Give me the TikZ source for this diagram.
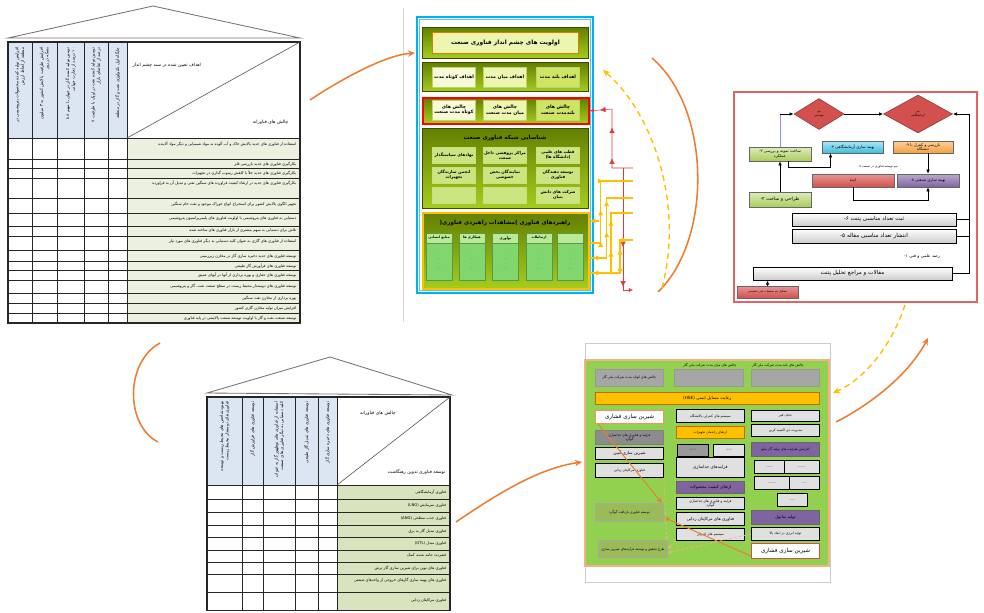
\documentclass[tikz,border=0pt]{standalone}
\usepackage{fontspec}
\newfontfamily\arabicfont[Script=Arabic]{DejaVu Sans}
\TeXXeTstate=1
\usetikzlibrary{positioning,arrows.meta,shapes.geometric,calc,decorations.markings}
\definecolor{hdrBlue}{RGB}{220,230,242}
\definecolor{rowGreen}{RGB}{235,241,222}
\definecolor{rowGreenB}{RGB}{215,228,189}
\definecolor{frameCyan}{RGB}{0,176,240}
\definecolor{oliveD}{RGB}{100,128,0}
\definecolor{oliveL}{RGB}{165,205,30}
\definecolor{paleLime}{RGB}{236,246,176}
\definecolor{limeDeep}{RGB}{205,228,100}
\definecolor{limeSoft}{RGB}{246,250,215}
\definecolor{paleLimeB}{RGB}{190,210,110}
\definecolor{capYellow}{RGB}{255,192,0}
\definecolor{colGreen}{RGB}{130,214,110}
\definecolor{colGreenH}{RGB}{185,235,150}
\definecolor{flowRed}{RGB}{210,80,77}
\definecolor{flowGreen}{RGB}{170,205,90}
\definecolor{flowCyan}{RGB}{60,190,225}
\definecolor{flowOrange}{RGB}{247,160,60}
\definecolor{flowPurple}{RGB}{128,100,162}
\definecolor{flowGray}{RGB}{205,205,205}
\definecolor{panelGreen}{RGB}{146,208,80}
\definecolor{panelBorder}{RGB}{244,177,131}
\definecolor{boxGray}{RGB}{166,166,166}
\definecolor{boxOlive}{RGB}{155,187,89}
\definecolor{arcOrange}{RGB}{237,125,49}
\definecolor{lineRed}{RGB}{220,60,60}

\newcommand\fatxt[1]{{\arabicfont\beginR #1\endR}}

\begin{document}
\begin{tikzpicture}[x=0.025cm, y=-0.025cm,
  wh/.style 2 args={minimum width=#1*0.025cm, minimum height=#2*0.025cm},
  gridln/.style={draw=black!85, line width=0.4pt},
  roofln/.style={draw=black!55, line width=0.6pt, fill=white},
  vtxt/.style={rotate=90, anchor=east, align=right, inner sep=0.3pt,
    font=\fontsize{2.95}{3.9}\selectfont},
  rowtxt/.style={anchor=east, inner sep=0.3pt, font=\fontsize{2.7}{3.2}\selectfont},
  hdrtxt/.style={inner sep=0.3pt, font=\fontsize{3.2}{3.8}\selectfont},
  band/.style={anchor=north west, draw=oliveD!60!black, line width=0.6pt,
    top color=oliveD, bottom color=oliveL},
  limebox/.style={draw=paleLimeB, fill=paleLime, line width=0.4pt, align=center,
    inner sep=0.3pt, font=\fontsize{3.3}{3.9}\selectfont\bfseries},
  netbox/.style={draw=oliveL!60!white, fill=oliveL!55!white, line width=0.4pt,
    align=center, inner sep=0.3pt, font=\fontsize{2.9}{3.5}\selectfont\bfseries},
  colhead/.style={draw=colGreen!70!black, fill=colGreenH, line width=0.3pt,
    inner sep=0.2pt, font=\fontsize{2.4}{3}\selectfont\bfseries},
  colbody/.style={draw=colGreen!70!black, fill=colGreen, line width=0.3pt,
    inner sep=0.2pt, align=center, font=\fontsize{2.4}{3.8}\selectfont},
  yelln/.style={draw=capYellow, line width=1.1pt},
  redln/.style={draw=lineRed, line width=0.4pt},
  marr/.style={postaction={decorate}, decoration={markings,
    mark=between positions #1 and 0.95 step 0.3 with {\arrow{Latex[length=4pt,width=4pt]}}}},
  endarr/.style={-{Latex[length=3pt,width=3pt]}},
  flowbox/.style={draw=black!60, line width=0.3pt, align=center, inner sep=0.3pt,
    font=\fontsize{2.8}{3.4}\selectfont},
  graybar/.style={draw=black, line width=0.6pt, top color=white, bottom color=flowGray,
    inner sep=0.3pt, font=\fontsize{4}{4.8}\selectfont},
  flowarr/.style={draw=black, line width=0.6pt, -{Latex[length=3pt,width=2.6pt]}},
  gbox/.style={anchor=north west, draw=black, line width=0.6pt, fill=black!12,
    align=center, inner sep=0.2pt, font=\fontsize{2.4}{3}\selectfont},
  orarc/.style={draw=arcOrange, line width=1.1pt, -{Stealth[length=5pt,width=4.5pt]}},
  yelarc/.style={draw=capYellow, line width=1pt, dash pattern=on 4pt off 3pt,
    -{Stealth[length=5pt,width=4.5pt]}},
  orln/.style={draw=arcOrange, line width=0.7pt, -{Stealth[length=4pt,width=3.5pt]}},
  ordash/.style={draw=arcOrange!60, line width=0.5pt, dash pattern=on 2pt off 1.5pt}
]
\useasboundingbox (0,0) rectangle (984,612);

%% ---------- house matrix: vision goals vs challenges ----------
\draw[roofln] (8,38) -- (153,6) -- (300,38) -- cycle;
\fill[hdrBlue] (8,42) rectangle (127,138);
\fill[rowGreen] (127,138) rectangle (300,323);
\foreach \x in {32,57,84,108,127} \draw[gridln] (\x,42) -- (\x,323);
\foreach \y in {138,159,168,178,198,213,226,236,250,261,270,280,293,303,313}
  \draw[gridln] (8,\y) -- (300,\y);
\draw[gridln, line width=0.8pt] (8,42) rectangle (300,323);
\draw[black!70, line width=0.4pt] (127,138) -- (300,42);

\node[vtxt] (goalA) at (20,47) {\fatxt{افزایش تولید کننده محصولات پتروشیمی در}\\\fatxt{منطقه از لحاظ ارزش}};
\node[vtxt] (goalB) at (44.5,47) {\fatxt{افزایش ظرفیت پالایش کشور به ۳ میلیون}\\\fatxt{بشکه در روز}};
\node[vtxt] (goalC) at (70.5,47) {\fatxt{دومین تولید کننده گاز در جهان با سهم ۸ تا}\\\fatxt{۱۰ درصد از تجارت جهانی}};
\node[vtxt] (goalD) at (96,47) {\fatxt{دومین تولید کننده نفت در اوپک با ظرفیت ۷}\\\fatxt{درصد از تقاضای بازار}};
\node[vtxt] (goalE) at (117.5,47) {\fatxt{جایگاه اول تکنولوژی نفت و گاز در منطقه}};

\node[hdrtxt, anchor=west] (goalHdr) at (132,65) {\fatxt{اهداف تعیین شده در سند چشم انداز}};
\node[hdrtxt, anchor=east] (chalHdr) at (289,122) {\fatxt{چالش های فناورانه}};

\foreach \y/\lbl [count=\i] in {
  144/{استفاده از فناوری های جدید پالایش خاک و آب آلوده به مواد شیمیایی و دیگر مواد آلاینده},
  164/{بکارگیری فناوری های جدید بازرسی فلز},
  173/{بکارگیری فناوری های جدید خلأ با کاهش رسوب گذاری در تجهیزات},
  183/{بکارگیری فناوری های جدید در ارتقاء کیفیت فراورده های سنگین نفتی و تبدیل آن به فراورده},
  204/{تجهیز الگوی پالایش کشور برای استخراج انواع خوراک موجود و نفت خام سنگین},
  219/{دستیابی به فناوری های پتروشیمی با اولویت فناوری های پلیمریزاسیون پتروشیمی},
  231/{تلاش برای دستیابی به سهم بیشتری از بازار فناوری های ساخته شده},
  241/{استفاده از فناوری های گازی به عنوان کلید دستیابی به دیگر فناوری های مورد نیاز},
  256/{توسعه فناوری های جدید ذخیره سازی گاز در مخازن زیرزمینی},
  266/{توسعه فناوری های فرآورش گاز طبیعی},
  275/{توسعه فناوری های حفاری و بهره برداری از آنها در آبهای عمیق},
  286/{توسعه فناوری های دوستدار محیط زیست در سطح صنعت نفت، گاز و پتروشیمی},
  298/{بهره برداری از مخازن نفت سنگین},
  308/{افزایش میزان تولید مخازن گازی کشور},
  318/{توسعه صنعت نفت و گاز با اولویت توسعه صنعت پالایشی در پایه فناوری}}
  \node[rowtxt] (chalRow\i) at (297,\y) {\fatxt{\lbl}};

%% ---------- technology vision framework ----------
\draw[black!15] (403,8) -- (403,322);
\draw[frameCyan, line width=1.3pt] (417,17) rectangle (593,293);
\draw[frameCyan!70, line width=0.4pt] (419.5,19.5) rectangle (590.5,290.5);

\node[band, wh={166}{31}] (visBand) at (422,27) {};
\node[limebox, wh={146}{21}, draw=orange!70!olive, font=\fontsize{4.2}{5}\selectfont\bfseries]
  (visTitle) at (visBand.center) {\fatxt{اولویت های چشم انداز فناوری صنعت}};

\node[band, wh={166}{29}] (goalBand) at (422,62) {};
\foreach \cx/\fc/\lbl [count=\i] in {558/limeDeep/{اهداف بلند مدت},
    505/paleLime/{اهداف میان مدت}, 454/limeSoft/{اهداف کوتاه مدت}}
  \node[limebox, fill=\fc, wh={43}{20}] (goal\i) at (\cx,77) {\fatxt{\lbl}};

\node[band, draw=red, line width=1.2pt, wh={166}{26}] (chalBand) at (422,97) {};
\foreach \cx/\fc/\lbl [count=\i] in {558/limeDeep/{بلندمدت صنعت},
    505/paleLime/{میان مدت صنعت}, 454/limeSoft/{کوتاه مدت صنعت}}
  \node[limebox, fill=\fc, wh={43}{20}] (chal\i) at (\cx,110) {\fatxt{چالش های}\\\fatxt{\lbl}};

\node[band, wh={166}{80}] (netBand) at (422,128) {};
\node[hdrtxt, font=\fontsize{4}{5}\selectfont\bfseries] (netTitle) at (505,138)
  {\fatxt{شناسایی شبکه فناوری صنعت}};
\node[netbox, wh={43}{16}] (netA) at (558,155) {\fatxt{قطب های علمی}\\{\arabicfont(\beginR دانشگاه ها\endR)}};
\node[netbox, wh={43}{16}] (netB) at (505,155) {\fatxt{مراکز پژوهشی داخل}\\\fatxt{صنعت}};
\node[netbox, wh={43}{16}] (netC) at (454,155) {\fatxt{نهادهای سیاستگذار}};
\node[netbox, wh={43}{16}] (netD) at (558,175) {\fatxt{توسعه دهندگان}\\\fatxt{فناوری}};
\node[netbox, wh={43}{16}] (netE) at (505,175) {\fatxt{نمایندگان بخش}\\\fatxt{خصوصی}};
\node[netbox, wh={43}{16}] (netF) at (454,175) {\fatxt{انجمن سازندگان}\\\fatxt{تجهیزات}};
\node[netbox, wh={43}{16}] (netG) at (558,195) {\fatxt{شرکت های دانش}\\\fatxt{بنیان}};
\node[netbox, wh={43}{16}] (netH) at (505,195) {};
\node[netbox, wh={43}{16}] (netI) at (454,195) {};

\node[band, draw=capYellow, line width=1.2pt, wh={166}{76}] (stratBand) at (422,212) {};
\node[hdrtxt, font=\fontsize{4}{5}\selectfont\bfseries] (stratTitle) at (505,223)
  {\arabicfont(\beginR مشاهدات راهبردی فناوری\endR) \beginR راهبردهای فناوری\endR};
\foreach \cx/\lbl [count=\i] in {439/{منابع انسانی}, 472/{همکاری ها}, 505.5/{نوآوری},
    539/{ارتباطات}, 570.5/{}} {
  \node[colhead, wh={26}{10}] (colH\i) at (\cx,238) {\fatxt{\lbl}};
  \node[colbody, wh={26}{37}] (colB\i) at (\cx,261.5) {.\\.\\.\\...};
}

% feedback lines on the right
\coordinate (redTop) at (633,168);
\coordinate (redJoin) at (623,168);
\coordinate (redBot) at (633,290);
\draw[redln, endarr, marr=0.3] (redTop) -- (612,168) -- (612,109) -- (chalBand.east);
\draw[redln, endarr, marr=0.6] (redJoin) -- (623,290) -- (redBot);
\coordinate (yelA) at (633,181);
\coordinate (yelB) at (633,198);
\coordinate (yelC) at (633,213);
\coordinate (yelD) at (633,240);
\coordinate (yelJoin) at (599,221);
\coordinate (yelKnee) at (611,273);
\draw[yelln, marr=0.12] ($(stratBand.north east)+(0,31)$) -- ++(11,0) |- (yelA);
\draw[yelln, -{Latex[length=4pt,width=4pt]}] (yelJoin) -- ($(stratBand.north east)+(0,9)$);
\draw[yelln, marr=0.12] ($(stratBand.north east)+(0,46)$) -- ++(17,0) |- (yelB);
\draw[yelln, marr=0.12] ($(stratBand.north east)+(0,61)$) -- (yelKnee) |- (yelC);
\draw[yelln, marr=0.3] (yelKnee) -- ++(9,0) |- (yelD);

%% ---------- R&D flow chart ----------
\draw[lineRed!80, line width=0.8pt] (734,92) rectangle (977,302);
\node[diamond, fill=flowRed, draw=flowRed!70!black, wh={50}{31}, inner sep=0, align=center,
  font=\fontsize{2}{2.4}\selectfont] (teamEng) at (819,114) {\fatxt{تیم}\\\fatxt{مهندسی}};
\node[diamond, fill=flowRed, draw=flowRed!70!black, wh={69}{38}, inner sep=0, align=center,
  font=\fontsize{2}{2.4}\selectfont] (teamLab) at (918,114) {\fatxt{تیم}\\\fatxt{آزمایشگاهی}};
\node[flowbox, top color=flowGreen!40!white, bottom color=flowGreen, wh={62}{14}] (build) at (780,154)
  {{\arabicfont ۳- \beginR ساخت نمونه و بررسی\endR}\\\fatxt{عملکرد}};
\node[flowbox, top color=flowCyan!40!white, bottom color=flowCyan, wh={61}{12}] (labOpt) at (852.5,147)
  {{\arabicfont ۴- \beginR بهینه سازی آزمایشگاهی\endR}};
\node[flowbox, top color=flowOrange!50!white, bottom color=flowOrange, wh={60}{12}] (inspect) at (923,147)
  {{\arabicfont ۹- \beginR بازرسی و کنترل با\endR}\\\fatxt{دستگاه}};
\node[inner sep=0.3pt, font=\fontsize{2.2}{2.6}\selectfont] (devNote) at (878,167)
  {{\arabicfont ۷- \beginR تیم توسعه فناوری در صنعت\endR}};
\node[flowbox, top color=flowRed!60!white, bottom color=flowRed, wh={82}{13}] (idea) at (853,180.5)
  {\fatxt{ایده}};
\node[flowbox, top color=flowPurple!55!white, bottom color=flowPurple, wh={62}{13}] (indOpt) at (928,180.5)
  {{\arabicfont ۸- \beginR بهینه سازی صنعتی\endR}};
\node[flowbox, top color=flowGreen!40!white, bottom color=flowGreen, wh={62}{15},
  font=\fontsize{3.4}{4}\selectfont] (design) at (780,199.5)
  {{\arabicfont ۲- \beginR طراحی و ساخت\endR}};
\node[graybar, wh={164}{13}] (patent) at (874,219.5)
  {{\arabicfont ۶- \beginR ثبت تعداد مناسبی پتنت\endR}};
\node[graybar, wh={164}{14}] (paper) at (874,236)
  {{\arabicfont ۵- \beginR انتشار تعداد مناسبی مقاله\endR}};
\node[inner sep=0.3pt, font=\fontsize{3}{3.6}\selectfont] (scanNote) at (922,256)
  {{\arabicfont ۱- \beginR رصد علمی و فنی\endR}};
\node[graybar, wh={199}{13}] (refs) at (852.5,273.5) {\fatxt{مقالات و مراجع تحلیل پتنت}};
\node[flowbox, top color=flowRed!60!white, bottom color=flowRed, wh={61}{12},
  font=\fontsize{2}{2.4}\selectfont] (team) at (767.5,292) {\fatxt{تشکیل تیم تحقیقات فنی تخصصی}};

\coordinate (railTop) at (969,114);
\draw[blue!45, line width=0.6pt] (build.north) -- (build.north |- teamEng.west);
\draw[flowarr] (build.north |- teamEng.west) -- (teamEng.west);
\draw[flowarr] (teamEng.east) -- (teamLab.west);
\draw[flowarr] (design.north) -- (build.south);
\draw[flowarr] ($(build.south)+(8,0)$) -- ++(0,6) -| ($(labOpt.south)+(-22,0)$);
\draw[flowarr] (indOpt.north |- inspect.south) -- (indOpt.north);
\draw[flowarr] (idea.south) -- ++(0,13) -| (indOpt.south);
\draw[flowarr] (team.north) -- (team.north |- refs.south);
\draw[flowarr] (refs.east) -- (refs.east -| railTop) -- (railTop) -- (teamLab.east);
\draw[flowarr, -] (patent.east) -- (patent.east -| railTop);
\draw[flowarr, -] (paper.east) -- (paper.east -| railTop);

%% ---------- house matrix: gas technology roadmap ----------
\draw[roofln] (207,393) -- (330,357) -- (452,395) -- cycle;
\fill[hdrBlue] (207,397) rectangle (337,485);
\fill[rowGreenB] (337,485) rectangle (450,610.5);
\foreach \x in {242,263,295,318,337} \draw[gridln] (\x,397) -- (\x,610.5);
\foreach \y in {485,499,512,525,537,550,562,574,592}
  \draw[gridln] (207,\y) -- (450,\y);
\draw[gridln, line width=0.8pt] (207,397) rectangle (450,610.5);
\draw[black!70, line width=0.4pt] (337,485) -- (450,397);

\node[vtxt] (gasA) at (224.5,401) {\fatxt{بهبود شاخص های محیط زیست و توسعه}\\\fatxt{فناوری های دوستدار محیط زیست}};
\node[vtxt] (gasB) at (252.5,401) {\fatxt{توسعه فناوری های فراورش گاز}};
\node[vtxt] (gasC) at (279,401) {\fatxt{استفاده از فناوری های نوظهور گاز به عنوان}\\\fatxt{کلید دستیابی به دیگر فناوری های صنعت}};
\node[vtxt] (gasD) at (306.5,401) {\fatxt{توسعه فناوری های تبدیل گاز طبیعی}};
\node[vtxt] (gasE) at (327.5,401) {\fatxt{توسعه فناوری های ذخیره سازی گاز}};

\node[hdrtxt] (chalHdrB) at (378,413) {\fatxt{چالش های فناورانه}};
\node[hdrtxt, anchor=east] (roadHdr) at (446,472) {\fatxt{توسعه فناوری تدوین رهنگاشت}};

\foreach \y/\lbl [count=\i] in {
  492/{فناوری آزمایشگاهی},
  505.5/{فناوری سرمایش (LNG)},
  518.5/{فناوری جذب سطحی (ANG)},
  531/{فناوری تبدیل گاز به برق},
  543.5/{فناوری مبدل (GTL)},
  556/{فشرده، جامد شده، کمک},
  568/{فناوری های نوین برای شیرین سازی گاز ترش},
  580/{فناوری های بهینه سازی گازهای خروجی از واحدهای صنعتی},
  601/{فناوری مرکاپتان زدایی}}
  \node[rowtxt] (gasRow\i) at (447,\y) {\fatxt{\lbl}};

%% ---------- gas company challenge map ----------
\draw[black!20] (585,343) rectangle (830,582);
\draw[panelBorder, line width=0.8pt, fill=panelGreen] (585,360) rectangle (829,566);
\node[hdrtxt, font=\fontsize{2.4}{3}\selectfont] (midHdr) at (710,365) {\fatxt{چالش های میان مدت شرکت ملی گاز}};
\node[hdrtxt, font=\fontsize{2.4}{3}\selectfont] (longHdr) at (778,365) {\fatxt{چالش های بلند مدت شرکت ملی گاز}};

\node[gbox, draw=black!40, line width=0.4pt, fill=boxGray, wh={68}{17}] (shortCh) at (595,369) {\fatxt{چالش های کوتاه مدت شرکت ملی گاز}};
\node[gbox, draw=black!40, line width=0.4pt, fill=boxGray, wh={69}{17}] (midCh) at (674,369) {};
\node[gbox, draw=black!40, line width=0.4pt, fill=boxGray, wh={68}{17}] (longCh) at (751,369) {};
\node[gbox, draw=orange!80!black, line width=0.4pt, fill=capYellow, wh={224}{12},
  font=\fontsize{3}{3.6}\selectfont] (hse) at (595,392) {\fatxt{رعایت مسایل ایمنی (HSE)}};

\node[gbox, draw=panelBorder!80!red, line width=0.8pt, fill=white, wh={68}{13},
  font=\fontsize{4}{4.8}\selectfont] (sweetA) at (595,410) {\fatxt{شیرین سازی فشاری}};
\node[gbox, fill=black!45, draw=black!50, wh={68}{14}] (sulfA) at (595,430) {\fatxt{فرایند و فناوری های جداسازی}\\\fatxt{گوگرد}};
\node[gbox, wh={68}{12}, font=\fontsize{3}{3.6}\selectfont] (amine) at (595,447) {\fatxt{شیرین سازی آمین}};
\node[gbox, wh={68}{14}] (mercA) at (595,463) {\fatxt{فناوری مرکاپتان زدایی}};
\node[gbox, draw=black!35, fill=boxOlive, wh={68}{18}] (recov) at (595,503) {\fatxt{توسعه فناوری بازیافت گوگرد}};
\node[gbox, draw=black!35, fill=boxOlive, wh={69}{17}] (rdPlan) at (598,540) {\fatxt{طرح تحقیق و توسعه فرآیندهای شیرین سازی}};

\node[gbox, wh={68}{13}] (ctrlA) at (676,409) {\fatxt{سیستم های کنترلی پالایشگاه}};
\node[gbox, draw=orange!80!black, line width=0.4pt, fill=capYellow, wh={68}{12}] (effic) at (676,426) {\fatxt{ارتقای راندمان تجهیزات}};
\node[gbox, fill=black!40, wh={31}{12}] (smallA) at (677,444) {\fatxt{-----}};
\node[gbox, wh={31}{12}] (smallB) at (713,444) {\fatxt{-----}};
\node[gbox, wh={68}{20}, font=\fontsize{3}{3.6}\selectfont] (sepProc) at (676,457) {\fatxt{فرایندهای جداسازی}};
\node[gbox, fill=flowPurple, draw=black!60, wh={68}{12}, font=\fontsize{3}{3.6}\selectfont] (quality) at (676,481) {\fatxt{ارتقای کیفیت محصولات}};
\node[gbox, wh={68}{12}] (sulfB) at (676,497) {\fatxt{فرایند و فناوری های جداسازی}\\\fatxt{گوگرد}};
\node[gbox, wh={68}{13}, font=\fontsize{3}{3.6}\selectfont] (mercB) at (676,512) {\fatxt{فناوری های مرکاپتان زدایی}};
\node[gbox, wh={68}{12}] (ctrlB) at (676,528) {\fatxt{سیستم های کنترلی}};

\node[gbox, wh={68}{11}] (tar) at (751,410) {\fatxt{حذف قیر}};
\node[gbox, wh={68}{12}] (co2) at (751,424) {\fatxt{مدیریت دی اکسید کربن}};
\node[gbox, fill=flowPurple, draw=black!60, wh={68}{14}] (capac) at (751,442) {\fatxt{افزایش ظرفیت های تولید گاز مایع}};
\node[gbox, wh={30}{13}, font=\fontsize{1.8}{2.2}\selectfont] (cellA) at (754,460) {\fatxt{-------}};
\node[gbox, wh={35}{13}, font=\fontsize{1.8}{2.2}\selectfont] (cellB) at (784,460) {\fatxt{---------}};
\node[gbox, wh={35}{13}, font=\fontsize{1.8}{2.2}\selectfont] (cellC) at (754,476) {\fatxt{---------}};
\node[gbox, wh={30}{13}, font=\fontsize{1.8}{2.2}\selectfont] (cellD) at (789,476) {\fatxt{-----}};
\node[gbox, wh={30}{13}, font=\fontsize{1.8}{2.2}\selectfont] (cellE) at (777,493) {\fatxt{-----}};
\node[gbox, fill=flowPurple, draw=black!60, wh={68}{14}, font=\fontsize{3}{3.6}\selectfont] (methanol) at (751,510) {\fatxt{تولید متانول}};
\node[gbox, wh={68}{13}] (largeProd) at (751,527) {\fatxt{تولید انرژی در ابعاد بالا}};
\node[gbox, draw=flowRed, line width=0.8pt, fill=white, wh={68}{15},
  font=\fontsize{4}{4.8}\selectfont] (sweetB) at (751,543) {\fatxt{شیرین سازی فشاری}};

\draw[orln] ($(sweetA.south west)+(3,0)$) -- ($(recov.north east)+(-2,0)$);
\draw[orln] ($(sweetB.west)+(0,5)$) -- ($(recov.east)+(0,5)$);
\draw[ordash, -{Stealth[length=3pt]}] (mercA.south east) -- ($(rdPlan.north east)+(-1,0)$);
\draw[ordash, -{Stealth[length=3pt]}] (ctrlB.south west) -- (rdPlan.east);
\draw[ordash, -{Stealth[length=3pt]}] (largeProd.west) -- ($(rdPlan.east)+(0,4)$);

%% ---------- linking arcs ----------
\coordinate (arcA1) at (310,100);
\coordinate (arcA2) at (415,53);
\draw[orarc] (arcA1) .. controls (340,80) and (385,55) .. (arcA2);
\coordinate (arcB1) at (652,58);
\coordinate (arcB2) at (658,292);
\draw[orarc, -] (arcB1) .. controls (712,110) and (712,240) .. (arcB2);
\coordinate (arcC1) at (662,288);
\coordinate (arcC2) at (603,70);
\draw[yelarc] (arcC1) .. controls (685,200) and (650,110) .. (arcC2);
\coordinate (arcD1) at (160,343);
\coordinate (arcD2) at (158,442);
\draw[orarc, -] (arcD1) .. controls (125,362) and (125,425) .. (arcD2);
\coordinate (arcE1) at (456,522);
\coordinate (arcE2) at (582,462);
\draw[orarc] (arcE1) .. controls (500,492) and (540,468) .. (arcE2);
\coordinate (arcF1) at (905,305);
\coordinate (arcF2) at (833,393);
\draw[yelarc] (arcF1) .. controls (890,350) and (862,380) .. (arcF2);
\coordinate (arcG1) at (836,422);
\coordinate (arcG2) at (928,338);
\draw[orarc] (arcG1) .. controls (875,402) and (910,372) .. (arcG2);
\end{tikzpicture}
\end{document}
